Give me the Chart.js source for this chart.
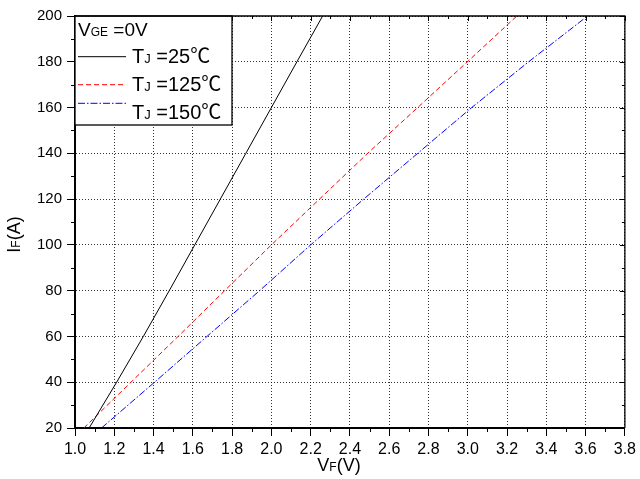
<!DOCTYPE html>
<html>
<head>
<meta charset="utf-8">
<script src="https://cdn.jsdelivr.net/npm/chart.js@4"></script>
<style>
  html, body { margin: 0; padding: 0; background: #fff; }
  #wrap { width: 640px; height: 479px; }
</style>
</head>
<body>
<div id="wrap"><canvas id="ifvf"></canvas></div>
<script>
// forward current (A) and forward voltage (V) at each junction temperature
const current = [20, 40, 60, 80, 100, 120, 140, 160, 180, 200];
const vf25 = [1.072, 1.212, 1.348, 1.48, 1.61, 1.74, 1.87, 2.0, 2.13, 2.261];
const vf125 = [1.045, 1.285, 1.525, 1.762, 2.0, 2.245, 2.49, 2.745, 2.998, 3.25];
const vf150 = [1.135, 1.405, 1.672, 1.94, 2.2, 2.47, 2.745, 3.02, 3.31, 3.61];
const temps = ["25", "125", "150"];
const colors = ["#000000", "#ff0000", "#0000ff"];
const dashes = [[], [5, 3], [7, 2, 1.5, 2]];

const FONT = "'Liberation Sans', Arial, sans-serif";
const CELSIUS_FONT = "'Noto Sans CJK SC', 'DejaVu Sans', sans-serif";

function pts(vs) {
  return vs.map((v, i) => ({ x: v, y: current[i] }));
}

// text runs sharing one baseline, each with its own size/font
function drawRuns(ctx, runs, x, y) {
  let cx = x;
  runs.forEach(r => {
    ctx.font = r.size + "px " + (r.family || FONT);
    ctx.fillText(r.text, cx, y);
    cx += ctx.measureText(r.text).width;
  });
  return cx;
}
function runsWidth(ctx, runs) {
  let w = 0;
  runs.forEach(r => {
    ctx.font = r.size + "px " + (r.family || FONT);
    w += ctx.measureText(r.text).width;
  });
  return w;
}

const decorations = {
  id: "decorations",
  afterDatasetsDraw(chart) {
    const { ctx, chartArea: a, scales: { x, y } } = chart;
    ctx.save();
    ctx.fillStyle = "#000";
    ctx.strokeStyle = "#000";
    ctx.textBaseline = "alphabetic";

    // minor ticks and mirrored inner ticks
    ctx.lineWidth = 1;
    ctx.beginPath();
    for (let v = 1.0; v <= 3.8001; v += 0.1) {
      const px = Math.round(x.getPixelForValue(v)) + 0.5;
      const major = Math.abs(v * 5 - Math.round(v * 5)) < 1e-6;
      if (!major) { ctx.moveTo(px, a.bottom); ctx.lineTo(px, a.bottom + 4); }
      ctx.moveTo(px, a.top); ctx.lineTo(px, a.top + (major ? 5 : 3));
    }
    for (let v = 20; v <= 200; v += 10) {
      const py = Math.round(y.getPixelForValue(v)) + 0.5;
      const major = v % 20 === 0;
      if (!major) { ctx.moveTo(a.left, py); ctx.lineTo(a.left - 4, py); }
      ctx.moveTo(a.right, py); ctx.lineTo(a.right - (major ? 5 : 3), py);
    }
    ctx.stroke();

    // legend box
    const lx = a.left, ly = a.top, lw = 157, lh = 109;
    ctx.fillStyle = "#fff";
    ctx.fillRect(lx, ly, lw, lh);
    ctx.lineWidth = 1.3;
    ctx.strokeRect(lx, ly, lw, lh);
    ctx.fillStyle = "#000";
    drawRuns(ctx, [
      { text: "V", size: 19 }, { text: "GE", size: 12 }, { text: " =0V", size: 19 }
    ], lx + 3, ly + 20);

    const lineY = [40.7, 68.7, 87.3];
    const textY = [47.3, 75, 103];
    temps.forEach((t, i) => {
      ctx.save();
      ctx.strokeStyle = colors[i];
      ctx.lineWidth = 1;
      ctx.setLineDash(dashes[i]);
      ctx.beginPath();
      ctx.moveTo(lx + 3, ly + lineY[i]);
      ctx.lineTo(lx + 51, ly + lineY[i]);
      ctx.stroke();
      ctx.restore();
      drawRuns(ctx, [
        { text: "T", size: 20 }, { text: "J", size: 13 }, { text: " =" + t, size: 20 },
        { text: "\u2103", size: 20, family: CELSIUS_FONT }
      ], lx + 57, ly + textY[i]);
    });

    // frame
    ctx.lineWidth = 1.3;
    ctx.beginPath();
    ctx.moveTo(a.left, a.top);
    ctx.lineTo(a.right, a.top);
    ctx.lineTo(a.right, a.bottom);
    ctx.stroke();

    // axis titles
    const xt = [{ text: "V", size: 18 }, { text: "F", size: 12 }, { text: "(V)", size: 18 }];
    drawRuns(ctx, xt, 339 - runsWidth(ctx, xt) / 2, 471);

    const yt = [{ text: "I", size: 18 }, { text: "F", size: 12 }, { text: "(A)", size: 18 }];
    ctx.translate(19.5, 234.5);
    ctx.rotate(-Math.PI / 2);
    drawRuns(ctx, yt, -runsWidth(ctx, yt) / 2, 0);
    ctx.restore();
  }
};

const ctx = document.getElementById("ifvf").getContext("2d");
new Chart(ctx, {
  type: "scatter",
  data: {
    datasets: [vf25, vf125, vf150].map((vs, i) => ({
      label: "TJ =" + temps[i] + "\u2103",
      data: pts(vs),
      showLine: true,
      borderColor: colors[i],
      borderWidth: 1,
      borderDash: dashes[i],
      pointRadius: 0,
      tension: 0,
      fill: false
    }))
  },
  options: {
    responsive: true,
    maintainAspectRatio: false,
    animation: false,
    layout: { padding: { top: 16, right: 12, left: 0, bottom: 0 } },
    plugins: { legend: { display: false }, tooltip: { enabled: false } },
    scales: {
      x: {
        type: "linear",
        min: 1.0,
        max: 3.8,
        afterFit: s => { s.height = 51; },
        ticks: {
          stepSize: 0.2,
          color: "#000",
          padding: 4,
          font: { family: FONT, size: 16 },
          maxRotation: 0,
          callback: v => v.toFixed(1)
        },
        grid: { color: "rgba(0,0,0,0.8)", lineWidth: 1, tickLength: 8, tickColor: "#000", tickWidth: 1 },
        border: { display: true, color: "#000", width: 2, dash: [1, 2] }
      },
      y: {
        type: "linear",
        min: 20,
        max: 200,
        afterFit: s => { s.width = 75; },
        ticks: {
          stepSize: 20,
          color: "#000",
          padding: 5,
          font: { family: FONT, size: 15 }
        },
        grid: { color: "rgba(0,0,0,0.8)", lineWidth: 1, tickLength: 8, tickColor: "#000", tickWidth: 1 },
        border: { display: true, color: "#000", width: 2, dash: [1, 2] }
      }
    }
  },
  plugins: [decorations]
});
</script>
</body>
</html>
